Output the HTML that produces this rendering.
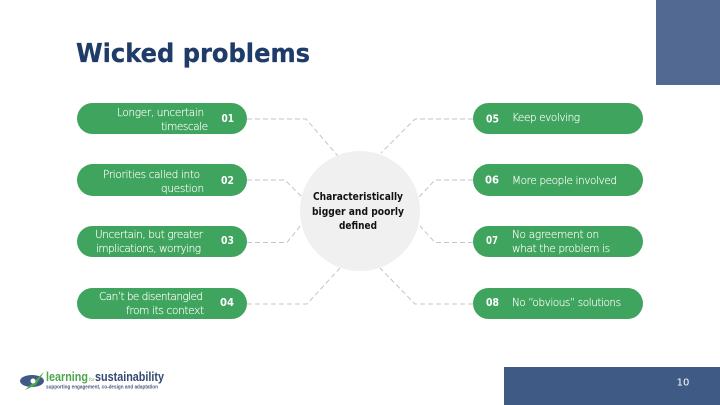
<!DOCTYPE html>
<html>
<head>
<meta charset="utf-8">
<style>
html,body{margin:0;padding:0;background:#fff}
svg{display:block}
text{font-family:"DejaVu Sans","Liberation Sans",sans-serif}
.l{font-size:10.5px;fill:#fff;stroke:#fff;stroke-width:0.15px;font-weight:200;letter-spacing:-0.1px}
.n{font-size:11px;font-weight:bold;fill:#fff}
.e{text-anchor:end}
.m{text-anchor:middle}
</style>
</head>
<body>
<svg width="720" height="405" viewBox="0 0 720 405" xmlns="http://www.w3.org/2000/svg">
<rect width="720" height="405" fill="#fff"/>
<rect x="656" y="0" width="64" height="85" fill="#526a92"/>
<rect x="504" y="367" width="216" height="38" fill="#3f5b85"/>
<text x="683" y="385.500" class="m" font-size="10" fill="#fff">10</text>
<text x="76" y="62" font-size="26" font-weight="bold" fill="#1f3b68" stroke="#1f3b68" stroke-width="0.3" textLength="234" lengthAdjust="spacingAndGlyphs">Wicked problems</text>

<g fill="none" stroke="#c4c4c4" stroke-width="1" stroke-dasharray="5 3">
<path d="M247 119H306L338 156"/>
<path d="M247 180H285L303 198"/>
<path d="M247 242.500H287L301 225"/>
<path d="M247 304H307L340 268"/>
<path d="M473 119H415L381 153"/>
<path d="M473 180H435L419 197"/>
<path d="M473 242.500H435L420 226"/>
<path d="M473 304H415L380 268"/>
</g>

<circle cx="360" cy="211" r="60" fill="#f0f0f0"/>
<g fill="#111" font-weight="bold" font-size="10.500">
<text x="358" y="200" class="m" textLength="90" lengthAdjust="spacingAndGlyphs">Characteristically</text>
<text x="358" y="215" class="m" textLength="92" lengthAdjust="spacingAndGlyphs">bigger and poorly</text>
<text x="358" y="229" class="m" textLength="38" lengthAdjust="spacingAndGlyphs">defined</text>
</g>

<g fill="#3fa45d">
<rect x="77" y="103" width="170" height="31" rx="15.500"/>
<rect x="77" y="164" width="170" height="32" rx="16"/>
<rect x="77" y="226" width="170" height="31" rx="15.500"/>
<rect x="77" y="288" width="170" height="31" rx="15.500"/>
<rect x="473" y="103" width="170" height="31" rx="15.500"/>
<rect x="473" y="164" width="170" height="32" rx="16"/>
<rect x="473" y="226" width="170" height="31" rx="15.500"/>
<rect x="473" y="288" width="170" height="31" rx="15.500"/>
</g>

<text class="l e" x="204" y="116" textLength="87">Longer, uncertain</text>
<text class="l e" x="208" y="130" textLength="47">timescale</text>
<text class="l e" x="200" y="178" textLength="97">Priorities called into</text>
<text class="l e" x="204" y="192" textLength="43">question</text>
<text class="l e" x="203" y="238" textLength="108">Uncertain, but greater</text>
<text class="l e" x="201" y="252" textLength="105">implications, worrying</text>
<text class="l e" x="203" y="300" textLength="104">Can’t be disentangled</text>
<text class="l e" x="204" y="314" textLength="78">from its context</text>

<text class="n" x="221.500" y="122" textLength="12.500" lengthAdjust="spacingAndGlyphs">01</text>
<text class="n" x="221" y="184" textLength="13" lengthAdjust="spacingAndGlyphs">02</text>
<text class="n" x="221" y="244" textLength="13" lengthAdjust="spacingAndGlyphs">03</text>
<text class="n" x="220" y="306" textLength="14" lengthAdjust="spacingAndGlyphs">04</text>
<text class="n" x="486" y="122.500" textLength="13" lengthAdjust="spacingAndGlyphs">05</text>
<text class="n" x="485" y="183.500" textLength="14" lengthAdjust="spacingAndGlyphs">06</text>
<text class="n" x="486" y="244" textLength="12" lengthAdjust="spacingAndGlyphs">07</text>
<text class="n" x="486" y="306" textLength="13" lengthAdjust="spacingAndGlyphs">08</text>

<text class="l" x="512" y="121" textLength="68">Keep evolving</text>
<text class="l" x="512" y="184" textLength="105">More people involved</text>
<text class="l" x="512" y="238" textLength="87">No agreement on</text>
<text class="l" x="512" y="252" textLength="98">what the problem is</text>
<text class="l" x="512" y="306" textLength="109">No “obvious” solutions</text>

<g transform="translate(20,372)">
<ellipse cx="12" cy="9" rx="12" ry="6" fill="#3f5b85"/>
<path d="M5 18L24 0L16 13Z" fill="#4ea64f"/>
<circle cx="13" cy="9" r="2.500" fill="#fff"/>
</g>
<text x="46" y="381" font-size="13" font-weight="bold" fill="#4ea64f" textLength="42" lengthAdjust="spacingAndGlyphs" style="font-family:'Liberation Sans',sans-serif">learning</text>
<text x="89" y="381" font-size="4" fill="#4ea64f">for</text>
<text x="95" y="381" font-size="13" font-weight="bold" fill="#33496f" textLength="69" lengthAdjust="spacingAndGlyphs" style="font-family:'Liberation Sans',sans-serif">sustainability</text>
<text x="46" y="388.500" font-size="5" font-weight="bold" fill="#4a5f7d" textLength="112" lengthAdjust="spacingAndGlyphs" style="font-family:'Liberation Sans',sans-serif">supporting engagement, co-design and adaptation</text>
</svg>
</body>
</html>
